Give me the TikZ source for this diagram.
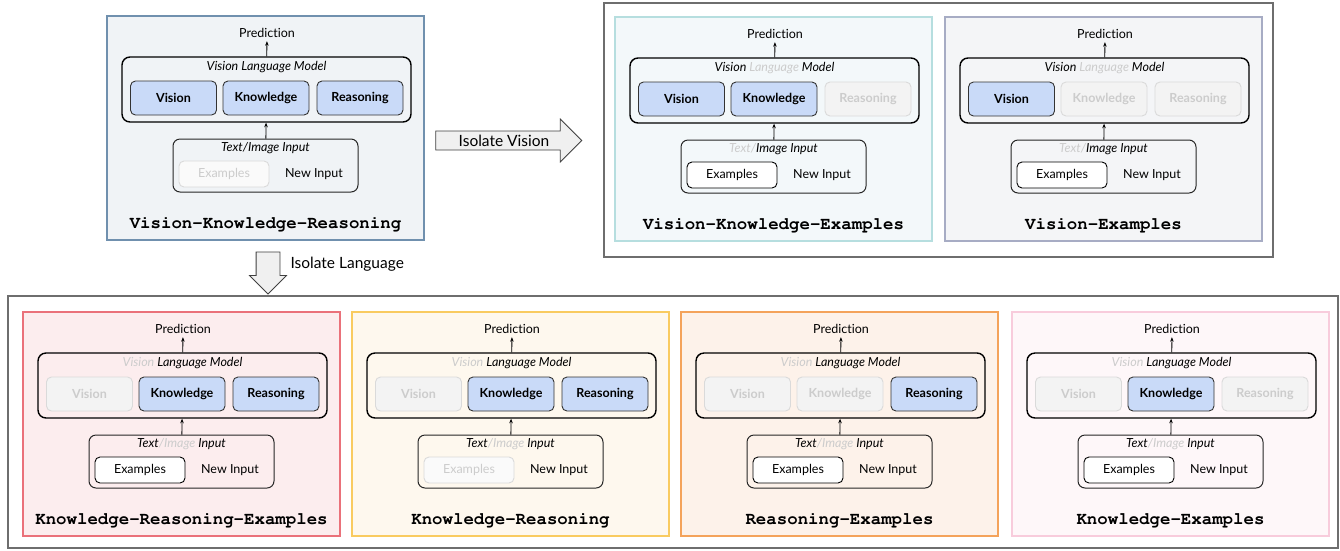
\documentclass[tikz,border=0pt]{standalone}
\usepackage{fontspec}
\setmainfont{Lato}[Ligatures=NoCommon]
\usetikzlibrary{arrows.meta,shapes.arrows,positioning}

\definecolor{boxblue}{HTML}{C9DAF8}
\definecolor{offfill}{HTML}{F3F3F3}
\definecolor{offline}{HTML}{DADADA}
\definecolor{offtext}{HTML}{CCCCCC}
\definecolor{framegray}{HTML}{6E6E6E}
\definecolor{vkrline}{HTML}{7090AE}
\definecolor{vkrfill}{HTML}{F0F3F6}
\definecolor{vkeline}{HTML}{B6DEDF}
\definecolor{vkefill}{HTML}{F3F8FA}
\definecolor{veline}{HTML}{A7ACC4}
\definecolor{vefill}{HTML}{F4F5F7}
\definecolor{kreline}{HTML}{EA717A}
\definecolor{krefill}{HTML}{FCEDEE}
\definecolor{krline}{HTML}{F9CB60}
\definecolor{krfill}{HTML}{FEF8EE}
\definecolor{reline}{HTML}{F4A35B}
\definecolor{refill}{HTML}{FDF2EA}
\definecolor{keline}{HTML}{F8CCDC}
\definecolor{kefill}{HTML}{FEF7F9}

\newcommand{\basefont}{\fontsize{12.5}{15}\selectfont}
\newcommand{\titlefont}{\fontencoding{OT1}\fontfamily{pcr}\fontseries{b}\fontsize{17.4}{20}\selectfont}
\newcommand{\dimtext}[1]{\textcolor{offtext}{#1}}

\tikzset{
  panelbox/.style={draw=#1line, fill=#1fill, line width=2.5pt,
    minimum width=317pt, minimum height=224pt, inner sep=0pt},
  vlmbox/.style={draw=black, line width=1.4pt, rounded corners=8pt,
    minimum width=289pt, minimum height=65pt},
  inbox/.style={draw=black!85, line width=1pt, rounded corners=7pt,
    minimum width=185pt, minimum height=53pt},
  modon/.style={draw=black!80, fill=boxblue, line width=0.9pt, rounded corners=5pt,
    minimum width=86pt, minimum height=34pt, font=\basefont\bfseries},
  modoff/.style={modon, draw=offline, fill=offfill, text=offtext},
  exon/.style={draw=black, fill=white, line width=0.9pt, rounded corners=5pt,
    minimum width=90pt, minimum height=26pt, font=\basefont},
  exoff/.style={exon, draw=offline, fill=offfill!40, text=offtext},
  boxlabel/.style={font=\basefont\itshape},
  paneltitle/.style={font=\titlefont},
  arr/.style={-{Stealth[length=4.5pt,width=3.5pt]}, line width=0.8pt},
  outerframe/.style={draw=framegray, line width=1.8pt},
  isoarrow/.style={single arrow, draw=black!75, fill=black!6, line width=0.8pt,
    font=\fontsize{15.5}{18}\selectfont}
}

% one panel: name, top-left corner, colour, vision/knowledge/reasoning styles,
% model label, input label, examples style
\newcommand{\vlmpanel}[9]{%
  \begin{scope}[shift={#2}]
    \node[panelbox=#3] (#1) at (158.5,112) {};
    \node (#1pred) at (160,17) {Prediction};
    \node[vlmbox] (#1vlm) at (159.5,73.5) {};
    \node[boxlabel] (#1vlmlab) at (159.5,51) {#7};
    \node[#4] (#1vis) at (66.5,82) {Vision};
    \node[#5] (#1know) at (159,82) {Knowledge};
    \node[#6] (#1reas) at (253,82) {Reasoning};
    \node[inbox] (#1in) at (158.5,149.5) {};
    \node[boxlabel] (#1inlab) at (158.5,132) {#8};
    \node[#9] (#1ex) at (117,158) {Examples};
    \node (#1new) at (207,158) {New Input};
    \draw[arr] (#1vlm) -- (#1pred);
    \draw[arr] (#1in) -- (#1vlm);
  \end{scope}}

\begin{document}
\begin{tikzpicture}[x=1pt, y=-1pt, font=\basefont]
  \useasboundingbox (0,0) rectangle (1340,550);

  % frames round the isolated variants
  \node[outerframe, minimum width=669pt, minimum height=254pt] (visframe) at (938.5,130) {};
  \node[outerframe, minimum width=1330pt, minimum height=252pt] (langframe) at (673,422) {};

  % full model
  \vlmpanel{vkr}{(107,16)}{vkr}{modon}{modon}{modon}
    {Vision Language Model}{Text/Image Input}{exoff}
  \node[paneltitle] (vkrt) at ([yshift=17pt]vkr.south) {Vision-Knowledge-Reasoning};

  % isolate vision
  \vlmpanel{vke}{(615,17)}{vke}{modon}{modon}{modoff}
    {Vision \dimtext{Language} Model}{\dimtext{Text/}Image Input}{exon}
  \node[paneltitle] (vket) at ([yshift=17pt]vke.south) {Vision-Knowledge-Examples};

  \vlmpanel{ve}{(945,17)}{ve}{modon}{modoff}{modoff}
    {Vision \dimtext{Language} Model}{\dimtext{Text/}Image Input}{exon}
  \node[paneltitle] (vet) at ([yshift=17pt]ve.south) {Vision-Examples};

  % isolate language
  \vlmpanel{kre}{(23,312)}{kre}{modoff}{modon}{modon}
    {\dimtext{Vision} Language Model}{Text\dimtext{/Image} Input}{exon}
  \node[paneltitle] (kret) at ([yshift=17pt]kre.south) {Knowledge-Reasoning-Examples};

  \vlmpanel{kr}{(352,312)}{kr}{modoff}{modon}{modon}
    {\dimtext{Vision} Language Model}{Text\dimtext{/Image} Input}{exoff}
  \node[paneltitle] (krt) at ([yshift=17pt]kr.south) {Knowledge-Reasoning};

  \vlmpanel{re}{(681,312)}{re}{modoff}{modoff}{modon}
    {\dimtext{Vision} Language Model}{Text\dimtext{/Image} Input}{exon}
  \node[paneltitle] (ret) at ([yshift=17pt]re.south) {Reasoning-Examples};

  \vlmpanel{ke}{(1012,312)}{ke}{modoff}{modon}{modoff}
    {\dimtext{Vision} Language Model}{Text\dimtext{/Image} Input}{exon}
  \node[paneltitle] (ket) at ([yshift=17pt]ke.south) {Knowledge-Examples};

  % block arrows
  \node[isoarrow, minimum height=146pt, single arrow head extend=12pt] (isovis) at (504,140.5) {Isolate Vision};
  \node[isoarrow, shape border rotate=270, minimum height=42pt,
    single arrow head extend=6.5pt, inner sep=11.5pt] (isolang) at (268,267) {};
  \node[anchor=west, font=\fontsize{15.5}{18}\selectfont] (isolanglab) at (287,264) {Isolate Language};
\end{tikzpicture}
\end{document}
